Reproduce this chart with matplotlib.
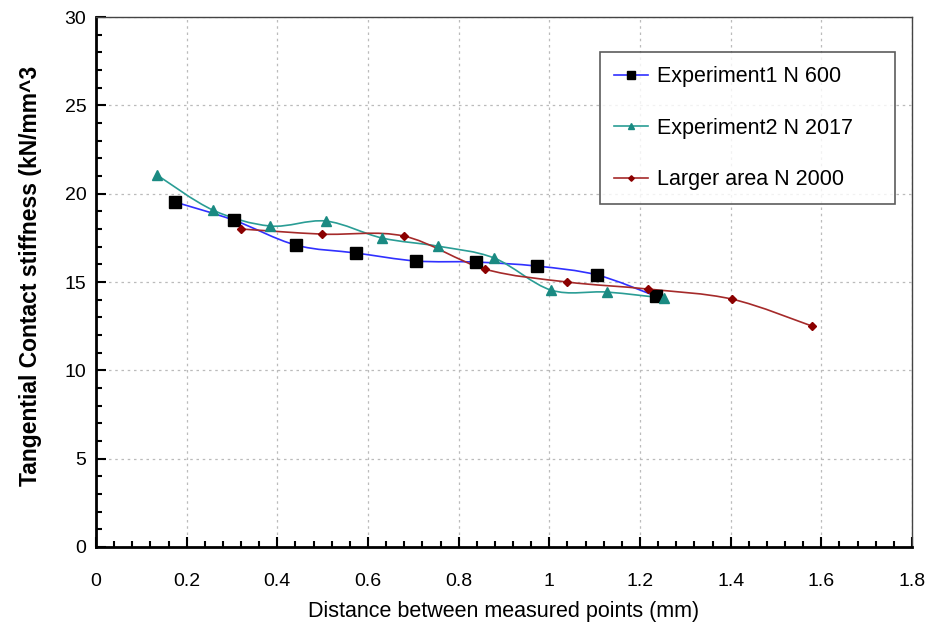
import matplotlib.pyplot as plt
import numpy as np
from matplotlib.path import Path
from matplotlib.patches import PathPatch
from matplotlib.ticker import MultipleLocator

plt.rcParams['font.family'] = ['Liberation Sans', 'DejaVu Sans']

# measured stiffness vs distance between measured points
x_exp1 = [0.174, 0.304, 0.441, 0.574, 0.706, 0.838, 0.973, 1.105, 1.235]
y_exp1 = [19.53, 18.50, 17.09, 16.64, 16.19, 16.13, 15.90, 15.40, 14.20]

x_exp2 = [0.135, 0.258, 0.384, 0.507, 0.631, 0.754, 0.878, 1.004, 1.127, 1.253]
y_exp2 = [21.05, 19.07, 18.17, 18.45, 17.49, 17.03, 16.36, 14.54, 14.43, 14.09]

x_large = [0.320, 0.499, 0.679, 0.858, 1.039, 1.218, 1.403, 1.580]
y_large = [18.00, 17.71, 17.60, 15.73, 15.00, 14.60, 14.03, 12.50]

labels = ['Experiment1 N 600', 'Experiment2 N 2017', 'Larger area N 2000']
xtick_labels = ['0', '0.2', '0.4', '0.6', '0.8', '1', '1.2', '1.4', '1.6', '1.8']


def smooth_path(xs, ys):
    # Excel-like smoothed line: Catmull-Rom segments as cubic Bezier curves
    pts = np.column_stack([xs, ys])
    verts = [pts[0]]
    codes = [Path.MOVETO]
    n = len(pts)
    for i in range(n - 1):
        p0 = pts[max(i - 1, 0)]
        p1 = pts[i]
        p2 = pts[i + 1]
        p3 = pts[min(i + 2, n - 1)]
        c1 = p1 + (p2 - p0) / 6.0
        c2 = p2 - (p3 - p1) / 6.0
        verts += [c1, c2, p2]
        codes += [Path.CURVE4] * 3
    return Path(verts, codes)


fig = plt.figure(figsize=(9.45, 6.26), dpi=100)
ax = fig.add_axes([0.1016, 0.1262, 0.8635, 0.8466])

series = [
    (x_exp1, y_exp1, '#3030ff', 's', 'black', 8),
    (x_exp2, y_exp2, '#2a9d95', '^', '#1a8a82', 6.5),
    (x_large, y_large, '#a52a2a', 'D', '#8b0000', 4),
]
for (xs, ys, lc, mk, mc, ms), lab in zip(series, labels):
    ax.add_patch(PathPatch(smooth_path(xs, ys), facecolor='none',
                           edgecolor=lc, lw=1.2, zorder=3))
    ax.plot(xs, ys, ls='none', marker=mk, ms=ms, color=mc, zorder=4)
    # legend handle
    ax.plot([], [], color=lc, lw=1.2, marker=mk, ms=ms * 0.7, mfc=mc, mec=mc,
            label=lab)

ax.set_xlim(0, 1.8)
ax.set_ylim(0, 30)
ax.set_xticks(np.arange(0, 1.81, 0.2))
ax.set_xticklabels(xtick_labels)
ax.xaxis.set_minor_locator(MultipleLocator(0.04))
ax.yaxis.set_major_locator(MultipleLocator(5))
ax.yaxis.set_minor_locator(MultipleLocator(1))

ax.tick_params(which='both', direction='in', width=1.5, labelsize=14)
ax.tick_params(which='major', length=7)
ax.tick_params(which='minor', length=4)
ax.tick_params(axis='x', pad=19)
ax.tick_params(axis='y', pad=7)

ax.grid(True, which='major', ls=(0, (2, 3)), color='#bbbbbb', lw=0.9)
ax.set_axisbelow(True)

for side in ['left', 'bottom']:
    ax.spines[side].set_linewidth(2)
    ax.spines[side].set_color('black')
for side in ['top', 'right']:
    ax.spines[side].set_linewidth(1)
    ax.spines[side].set_color('#444444')

ax.set_xlabel('Distance between measured points (mm)', fontsize=15.5, labelpad=8)
fig.text(0.032, 0.559, 'Tangential Contact stiffness (kN/mm^3', rotation=90,
         fontsize=16.5, fontweight='bold', ha='center', va='center')

leg = ax.legend(loc='upper left', bbox_to_anchor=(0.6176, 0.645, 0.3615, 0.2887),
                mode='expand', fontsize=15.5,
                frameon=True, fancybox=False, edgecolor='#333333',
                labelspacing=1.42, borderpad=0.65, handlelength=1.6,
                handletextpad=0.4, borderaxespad=0)
leg.get_frame().set_linewidth(1.2)

fig.savefig('out.png', dpi=100, facecolor='white')
